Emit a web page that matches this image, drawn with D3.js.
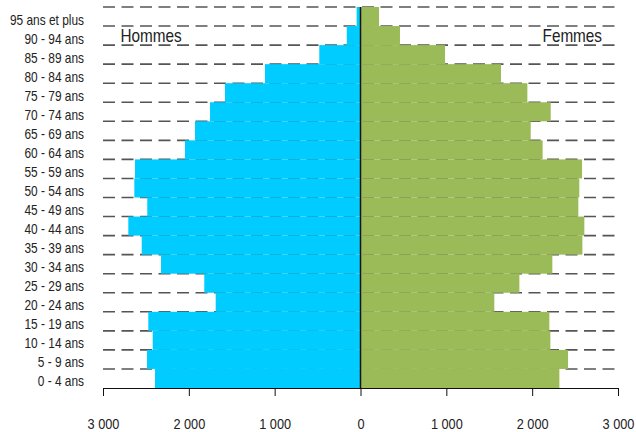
<!DOCTYPE html>
<html><head><meta charset="utf-8">
<script src="https://cdn.jsdelivr.net/npm/d3@7"></script>
<style>
html,body{margin:0;padding:0;background:#fff;}
svg{display:block;}
text{font-family:"Liberation Sans",Arial,sans-serif;fill:#222;}
</style></head>
<body>
<svg id="chart" width="636" height="432"></svg>
<script>
const ageGroups = ["0 - 4 ans","5 - 9 ans","10 - 14 ans","15 - 19 ans","20 - 24 ans","25 - 29 ans","30 - 34 ans","35 - 39 ans","40 - 44 ans","45 - 49 ans","50 - 54 ans","55 - 59 ans","60 - 64 ans","65 - 69 ans","70 - 74 ans","75 - 79 ans","80 - 84 ans","85 - 89 ans","90 - 94 ans","95 ans et plus"];
const hommes = [2394,2487,2421,2472,1687,1820,2324,2549,2705,2484,2635,2627,2045,1928,1753,1579,1113,480,160,45];
const femmes = [2317,2418,2212,2200,1559,1851,2235,2585,2608,2538,2549,2581,2122,1983,2216,1944,1637,985,460,216];
const tickValues = [-3000,-2000,-1000,0,1000,2000,3000];
const tickLabels = ["3 000","2 000","1 000","0","1 000","2 000","3 000"];
const seriesNames = ["Hommes","Femmes"];

const svg = d3.select("#chart");
const pL = 103, pR = 618, pT = 7, pB = 388;
const SX = 0.85; // narrow font emulation
const x = d3.scaleLinear().domain([-3000,3000]).range([pL,pR]);
const y = d3.scaleBand().domain(ageGroups.slice().reverse()).range([pT,pB]).padding(0);

// dashed gridlines at row boundaries
const bounds = ageGroups.slice().reverse().map(g => y(g));
svg.append("g").selectAll("line").data(bounds).join("line")
  .attr("x1", pL).attr("x2", pR)
  .attr("y1", d => d).attr("y2", d => d)
  .attr("stroke", "#555").attr("stroke-width", 1.6)
  .attr("stroke-dasharray", "12,6.5");

// bars
svg.append("g").selectAll("rect").data(ageGroups).join("rect")
  .attr("x", (d,i) => x(-hommes[i])).attr("width", (d,i) => x(0) - x(-hommes[i]))
  .attr("y", d => y(d)).attr("height", y.bandwidth())
  .attr("fill", "#00CCFF");
svg.append("g").selectAll("rect").data(ageGroups).join("rect")
  .attr("x", x(0)).attr("width", (d,i) => x(femmes[i]) - x(0))
  .attr("y", d => y(d)).attr("height", y.bandwidth())
  .attr("fill", "#9BBB59");

// zero line
svg.append("line").attr("x1", x(0)).attr("x2", x(0)).attr("y1", pT).attr("y2", pB)
  .attr("stroke", "#111").attr("stroke-width", 1.5);

// x axis
const xAxis = d3.axisBottom(x).tickValues(tickValues).tickSize(8).tickFormat((d,i) => tickLabels[i]);
const ax = svg.append("g").attr("transform", `translate(0,${pB})`).call(xAxis);
ax.select(".domain").attr("stroke", "#111").attr("d", `M${pL},0.5H${pR}`);
ax.selectAll(".tick line").attr("stroke", "#111");
ax.selectAll(".tick text").attr("y", 0).attr("dy", 0)
  .attr("transform", `translate(0,40.5) scale(${SX},1)`)
  .style("font-size", "15px")
  .style("font-family", '"Liberation Sans",Arial,sans-serif').attr("fill", "#222");

// y labels
svg.append("g").selectAll("text").data(ageGroups).join("text")
  .attr("transform", d => `translate(84,${y(d) + y.bandwidth()/2 + 8}) scale(${SX},1)`)
  .attr("text-anchor", "end").style("font-size", "14px")
  .text(d => d);

// series titles
svg.append("text").attr("transform", `translate(120.5,42) scale(${SX},1)`).style("font-size", "18px").text(seriesNames[0]);
svg.append("text").attr("transform", `translate(602,42) scale(${SX},1)`).attr("text-anchor", "end").style("font-size", "18px").text(seriesNames[1]);
</script>
</body></html>
